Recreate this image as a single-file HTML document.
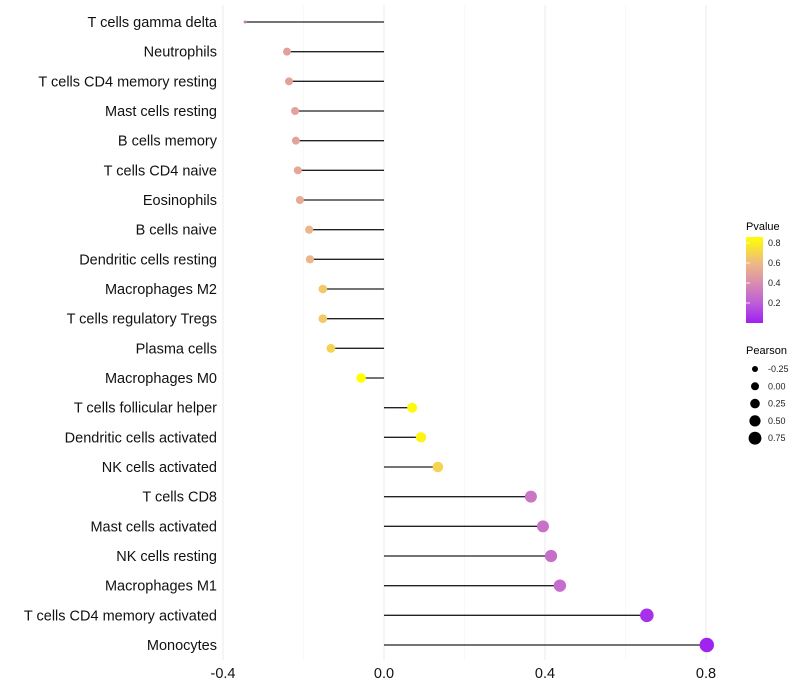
<!DOCTYPE html>
<html><head><meta charset="utf-8">
<style>
html,body{margin:0;padding:0;background:#fff;}
svg{display:block;font-family:"Liberation Sans",Arial,sans-serif;}
</style></head>
<body>
<svg id="chart" width="800" height="700" viewBox="0 0 800 700" xmlns="http://www.w3.org/2000/svg">
<g id="grid"></g>
<g id="stems"></g>
<g id="dots"></g>
<g id="ylabels"></g>
<g id="xlabels"></g>
<g id="legend">
  <defs>
    <linearGradient id="pgrad" x1="0" y1="1" x2="0" y2="0">
      <stop offset="0" stop-color="#A020F0"/>
      <stop offset="0.233" stop-color="#BD5ED8"/>
      <stop offset="0.465" stop-color="#D98DB0"/>
      <stop offset="0.698" stop-color="#EFB983"/>
      <stop offset="1" stop-color="#FFFF00"/>
    </linearGradient>
  </defs>
  <text x="746" y="230" font-size="11" fill="#000">Pvalue</text>
  <rect x="746" y="237" width="17" height="86" fill="url(#pgrad)"/>
  <g id="cbticks"></g>
  <text x="746" y="354" font-size="11" fill="#000">Pearson</text>
  <g id="sizelegend"></g>
</g>
</svg>
<script>
const categories = ["T cells gamma delta","Neutrophils","T cells CD4 memory resting","Mast cells resting","B cells memory","T cells CD4 naive","Eosinophils","B cells naive","Dendritic cells resting","Macrophages M2","T cells regulatory  Tregs ","Plasma cells","Macrophages M0","T cells follicular helper","Dendritic cells activated","NK cells activated","T cells CD8","Mast cells activated","NK cells resting","Macrophages M1","T cells CD4 memory activated","Monocytes"];
const pearson = [-0.345,-0.241,-0.236,-0.221,-0.219,-0.214,-0.209,-0.186,-0.184,-0.152,-0.152,-0.132,-0.057,0.070,0.092,0.134,0.365,0.395,0.415,0.437,0.653,0.802];
const pvalues = [0.32,0.48,0.49,0.50,0.50,0.52,0.53,0.58,0.58,0.66,0.66,0.70,0.86,0.84,0.82,0.70,0.30,0.28,0.27,0.26,0.05,0.01];
const pointSize = [1.5,4.0,4.0,4.0,4.0,4.0,4.0,4.1,4.1,4.3,4.3,4.4,4.8,5.0,5.2,5.3,6.0,6.0,6.1,6.2,6.8,7.2];
const xTicks = [-0.4,0.0,0.4,0.8];
const xTickLabels = ["-0.4","0.0","0.4","0.8"];
const gridValues = [-0.4,-0.2,0.0,0.2,0.4,0.6,0.8];
const cbTicks = [0.2,0.4,0.6,0.8];
const sizeLegendVals = ["-0.25","0.00","0.25","0.50","0.75"];
const sizeLegendR = [3.0,4.0,4.8,5.6,6.4];

const NS="http://www.w3.org/2000/svg";
function xScale(v){return 384 + v*402.5;}
function yScale(i){return 22 + i*(645-22)/(categories.length-1);}
function pY(p){return 323 - p*100;}
const stops=[[0,[160,32,240]],[0.2,[189,94,216]],[0.4,[217,141,176]],[0.6,[239,185,131]],[0.86,[255,255,0]]];
function color(p){
  p=Math.max(0,Math.min(0.86,p));
  for(let k=0;k<stops.length-1;k++){
    const a=stops[k],b=stops[k+1];
    if(p<=b[0]){const t=(p-a[0])/(b[0]-a[0]);
      const c=a[1].map((v,j)=>Math.round(v+(b[1][j]-v)*t));
      return "rgb("+c.join(",")+")";}
  }
  return "rgb(255,255,0)";
}
function mk(tag,attrs,parent){const e=document.createElementNS(NS,tag);for(const k in attrs)e.setAttribute(k,attrs[k]);parent.appendChild(e);return e;}

const grid=document.getElementById("grid");
gridValues.forEach(v=>{
  const major=(Math.abs(Math.round(v*10))%4===0);
  const l=mk("line",{x1:xScale(v),x2:xScale(v),y1:5,y2:660,stroke:major?"#ebebeb":"#f4f4f4","stroke-width":major?1:0.6},grid);
  
  
});
const stems=document.getElementById("stems"),dots=document.getElementById("dots"),yl=document.getElementById("ylabels");
categories.forEach((c,i)=>{
  const y=yScale(i);
  const s=mk("line",{x1:xScale(0),x2:xScale(pearson[i]),y1:y,y2:y,stroke:"#222","stroke-width":1.3},stems);
  
  
  const d=mk("circle",{cx:xScale(pearson[i]),cy:y,r:pointSize[i],fill:color(pvalues[i])},dots);
  
  
  const t=mk("text",{x:217,y:y+5,"text-anchor":"end","font-size":"14.5",fill:"#111"},yl);
  
  
  t.textContent=c;
});
const xl=document.getElementById("xlabels");
xTicks.forEach((v,i)=>{
  const t=mk("text",{x:xScale(v),y:678,"text-anchor":"middle","font-size":"14.5",fill:"#111"},xl);
  
  
  t.textContent=xTickLabels[i];
});
const cb=document.getElementById("cbticks");
cbTicks.forEach(v=>{
  const y=pY(v);
  const a=mk("line",{x1:746,x2:750,y1:y,y2:y,stroke:"#fff","stroke-width":0.8},cb);
  
  
  const t=mk("text",{x:768,y:y+3,"font-size":"9",fill:"#222"},cb);
  
  
  t.textContent=v.toFixed(1);
});
const sl=document.getElementById("sizelegend");
sizeLegendVals.forEach((v,i)=>{
  const y=369+i*17.3;
  const c=mk("circle",{cx:755,cy:y,r:sizeLegendR[i],fill:"#000"},sl);
  
  
  const t=mk("text",{x:768,y:y+3,"font-size":"9",fill:"#222"},sl);
  
  
  t.textContent=v;
});
</script>
</body></html>
